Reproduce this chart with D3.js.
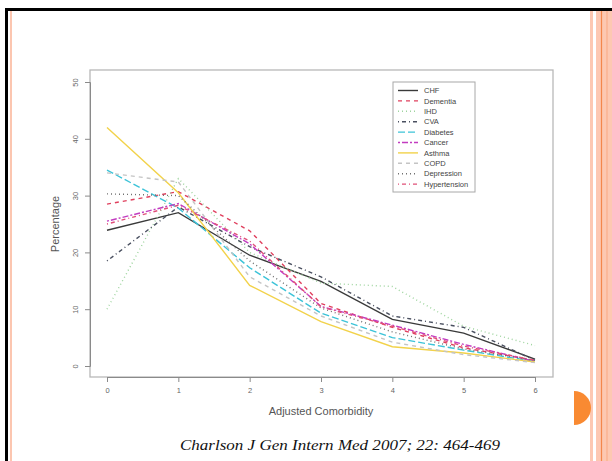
<!DOCTYPE html>
<html lang="en">
  <head>
    <meta charset="utf-8">
    <title>Adjusted Comorbidity</title>
    <script src="https://d3js.org/d3.v7.js"></script>
    <style>
      body { margin: 0; background: #fff; }
    </style>
  </head>

  <body>
    <svg></svg>

  <script>

// data

  const comorbidity = [0, 1, 2, 3, 4, 5, 6];
  const conditions = ["CHF", "Dementia", "IHD", "CVA", "Diabetes", "Cancer",
      "Asthma", "COPD", "Depression", "Hypertension"];

  const chf          = [23.9, 27.0, 19.5, 14.9, 8.2, 5.8, 1.2];
  const dementia     = [28.5, 30.7, 23.8, 11.0, 6.8, 3.2, 1.0];
  const ihd          = [10.0, 33.0, 20.0, 14.6, 14.0, 7.0, 3.6];
  const cva          = [18.5, 28.0, 21.0, 15.7, 8.8, 6.8, 1.0];
  const diabetes     = [34.5, 27.8, 17.3, 9.3, 5.0, 2.8, 0.8];
  const cancer       = [25.5, 28.6, 21.5, 10.5, 7.2, 3.8, 0.8];
  const asthma       = [42.0, 30.5, 14.2, 7.8, 3.4, 2.3, 0.7];
  const copd         = [34.0, 32.4, 15.7, 8.8, 4.2, 2.0, 0.6];
  const depression   = [30.3, 30.0, 18.5, 10.2, 6.0, 3.0, 1.0];
  const hypertension = [25.0, 28.3, 22.0, 10.4, 7.0, 3.5, 1.0];

  const yTicks = [0, 10, 20, 30, 40, 50];
  const citation = "Charlson J Gen Intern Med 2007; 22: 464-469";

  const series = [chf, dementia, ihd, cva, diabetes, cancer,
      asthma, copd, depression, hypertension];

// R default palette, a little faded like the photo
  const colors = ["#3a3a3a", "#e0405e", "#9ed49e", "#4a5060", "#3cc3d8",
      "#c23cc0", "#f2d24a", "#c4c4c4", "#707070", "#e05078"];
  const dashes = ["none", "4,4", "1,3", "1,3,4,3", "7,3", "2,2,6,2",
      "none", "4,4", "1,3", "1,3,4,3"];

  const sans = "'Liberation Sans', Arial, sans-serif";
  const serif = "'Liberation Serif', 'Times New Roman', serif";

  const w = 612;
  const h = 461;
  const box = {left: 90, right: 553, top: 70, bottom: 377};

  const svg = d3.select("svg")
      .attr("width", w)
      .attr("height", h);

// slide frame

  svg.append("rect")
      .attr("x", 0).attr("y", 0)
      .attr("width", w).attr("height", h)
      .attr("fill", "#fff");

  svg.append("line")
      .attr("x1", 5).attr("x2", w)
      .attr("y1", 9.5).attr("y2", 9.5)
      .attr("stroke", "#000").attr("stroke-width", 3);

  svg.append("line")
      .attr("x1", 6.5).attr("x2", 6.5)
      .attr("y1", 8).attr("y2", h)
      .attr("stroke", "#000").attr("stroke-width", 3);

  svg.append("line")
      .attr("x1", 11).attr("x2", 11)
      .attr("y1", 11).attr("y2", h)
      .attr("stroke", "#fcc6b0").attr("stroke-width", 2);

  svg.append("rect")
      .attr("x", 590).attr("y", 11)
      .attr("width", 3).attr("height", h)
      .attr("fill", "#fdc8b2");

  svg.append("rect")
      .attr("x", 596).attr("y", 11)
      .attr("width", 16).attr("height", h)
      .attr("fill", "#fdc8b2");

  svg.append("line")
      .attr("x1", 601.5).attr("x2", 601.5)
      .attr("y1", 11).attr("y2", h)
      .attr("stroke", "#f4874c").attr("stroke-width", 1.2);

  svg.append("line")
      .attr("x1", 607).attr("x2", 607)
      .attr("y1", 11).attr("y2", h)
      .attr("stroke", "#f9a883").attr("stroke-width", 1);

  svg.append("path")
      .attr("d", d3.arc()({innerRadius: 0, outerRadius: 17,
          startAngle: 0, endAngle: Math.PI}))
      .attr("transform", "translate(574, 408)")
      .attr("fill", "#f98a32");

// scales

  const xScale = d3.scaleLinear()
      .domain([0, 6])
      .range([107, 535]);

  const yScale = d3.scaleLinear()
      .domain([0, 50])
      .range([366, 82]);

  const axisColor = "#8a8a8a";

// plot box

  svg.append("rect")
      .attr("x", box.left).attr("y", box.top)
      .attr("width", box.right - box.left)
      .attr("height", box.bottom - box.top)
      .attr("fill", "none")
      .attr("stroke", "#b8b8b8")
      .attr("stroke-width", 1.3);

// axes

  const xAxis = svg.append("g")
      .attr("transform", `translate(0, ${box.bottom})`)
      .call(d3.axisBottom(xScale).tickValues(comorbidity)
          .tickSize(5).tickPadding(6).tickFormat(d3.format("d")));

  const yAxis = svg.append("g")
      .attr("transform", `translate(${box.left}, 0)`)
      .call(d3.axisLeft(yScale).tickValues(yTicks)
          .tickSize(5).tickPadding(0));

  [xAxis, yAxis].forEach(a => {
    a.select(".domain").attr("stroke", axisColor);
    a.selectAll(".tick line").attr("stroke", axisColor);
    a.selectAll("text")
        .attr("fill", "#666")
        .attr("font-size", 7.5)
        .style("font-family", sans);
  });

  yAxis.selectAll(".tick text")
      .attr("text-anchor", "middle")
      .attr("transform", "translate(-15, 0) rotate(-90)")
      .attr("x", 0)
      .attr("dy", "0.35em");

  svg.append("text")
      .attr("x", 321).attr("y", 415)
      .attr("text-anchor", "middle")
      .attr("font-size", 11)
      .attr("fill", "#555")
      .style("font-family", sans)
      .text("Adjusted Comorbidity");

  svg.append("text")
      .attr("transform", "translate(59, 224) rotate(-90)")
      .attr("text-anchor", "middle")
      .attr("font-size", 11)
      .attr("fill", "#555")
      .style("font-family", sans)
      .text("Percentage");

// lines

  const line = d3.line()
      .x((d, i) => xScale(comorbidity[i]))
      .y(d => yScale(d));

  svg.append("g")
      .attr("id", "plot")
    .selectAll("path")
      .data(series)
    .enter().append("path")
      .attr("d", d => line(d))
      .attr("fill", "none")
      .attr("stroke", (d, i) => colors[i])
      .attr("stroke-width", 1.4)
      .attr("stroke-dasharray", (d, i) => dashes[i]);

// legend

  const legend = svg.append("g")
      .attr("transform", "translate(393, 82)");

  legend.append("rect")
      .attr("width", 82).attr("height", 110)
      .attr("fill", "#fff")
      .attr("stroke", "#a8a8a8")
      .attr("stroke-width", 1);

  const items = legend.selectAll("g.item")
      .data(conditions)
    .enter().append("g")
      .attr("class", "item")
      .attr("transform", (d, i) => `translate(0, ${8.5 + i * 10.4})`);

  items.append("line")
      .attr("x1", 5).attr("x2", 25)
      .attr("stroke", (d, i) => colors[i])
      .attr("stroke-width", 1.4)
      .attr("stroke-dasharray", (d, i) => dashes[i]);

  items.append("text")
      .attr("x", 31)
      .attr("dy", "0.35em")
      .attr("font-size", 7.5)
      .attr("fill", "#444")
      .style("font-family", sans)
      .text(d => d);

// citation

  svg.append("text")
      .attr("x", 180).attr("y", 450)
      .attr("textLength", 320)
      .attr("lengthAdjust", "spacingAndGlyphs")
      .style("font-family", serif)
      .style("font-style", "italic")
      .attr("font-size", 15)
      .attr("fill", "#111")
      .text(citation);

    </script>

  </body>

</html>
